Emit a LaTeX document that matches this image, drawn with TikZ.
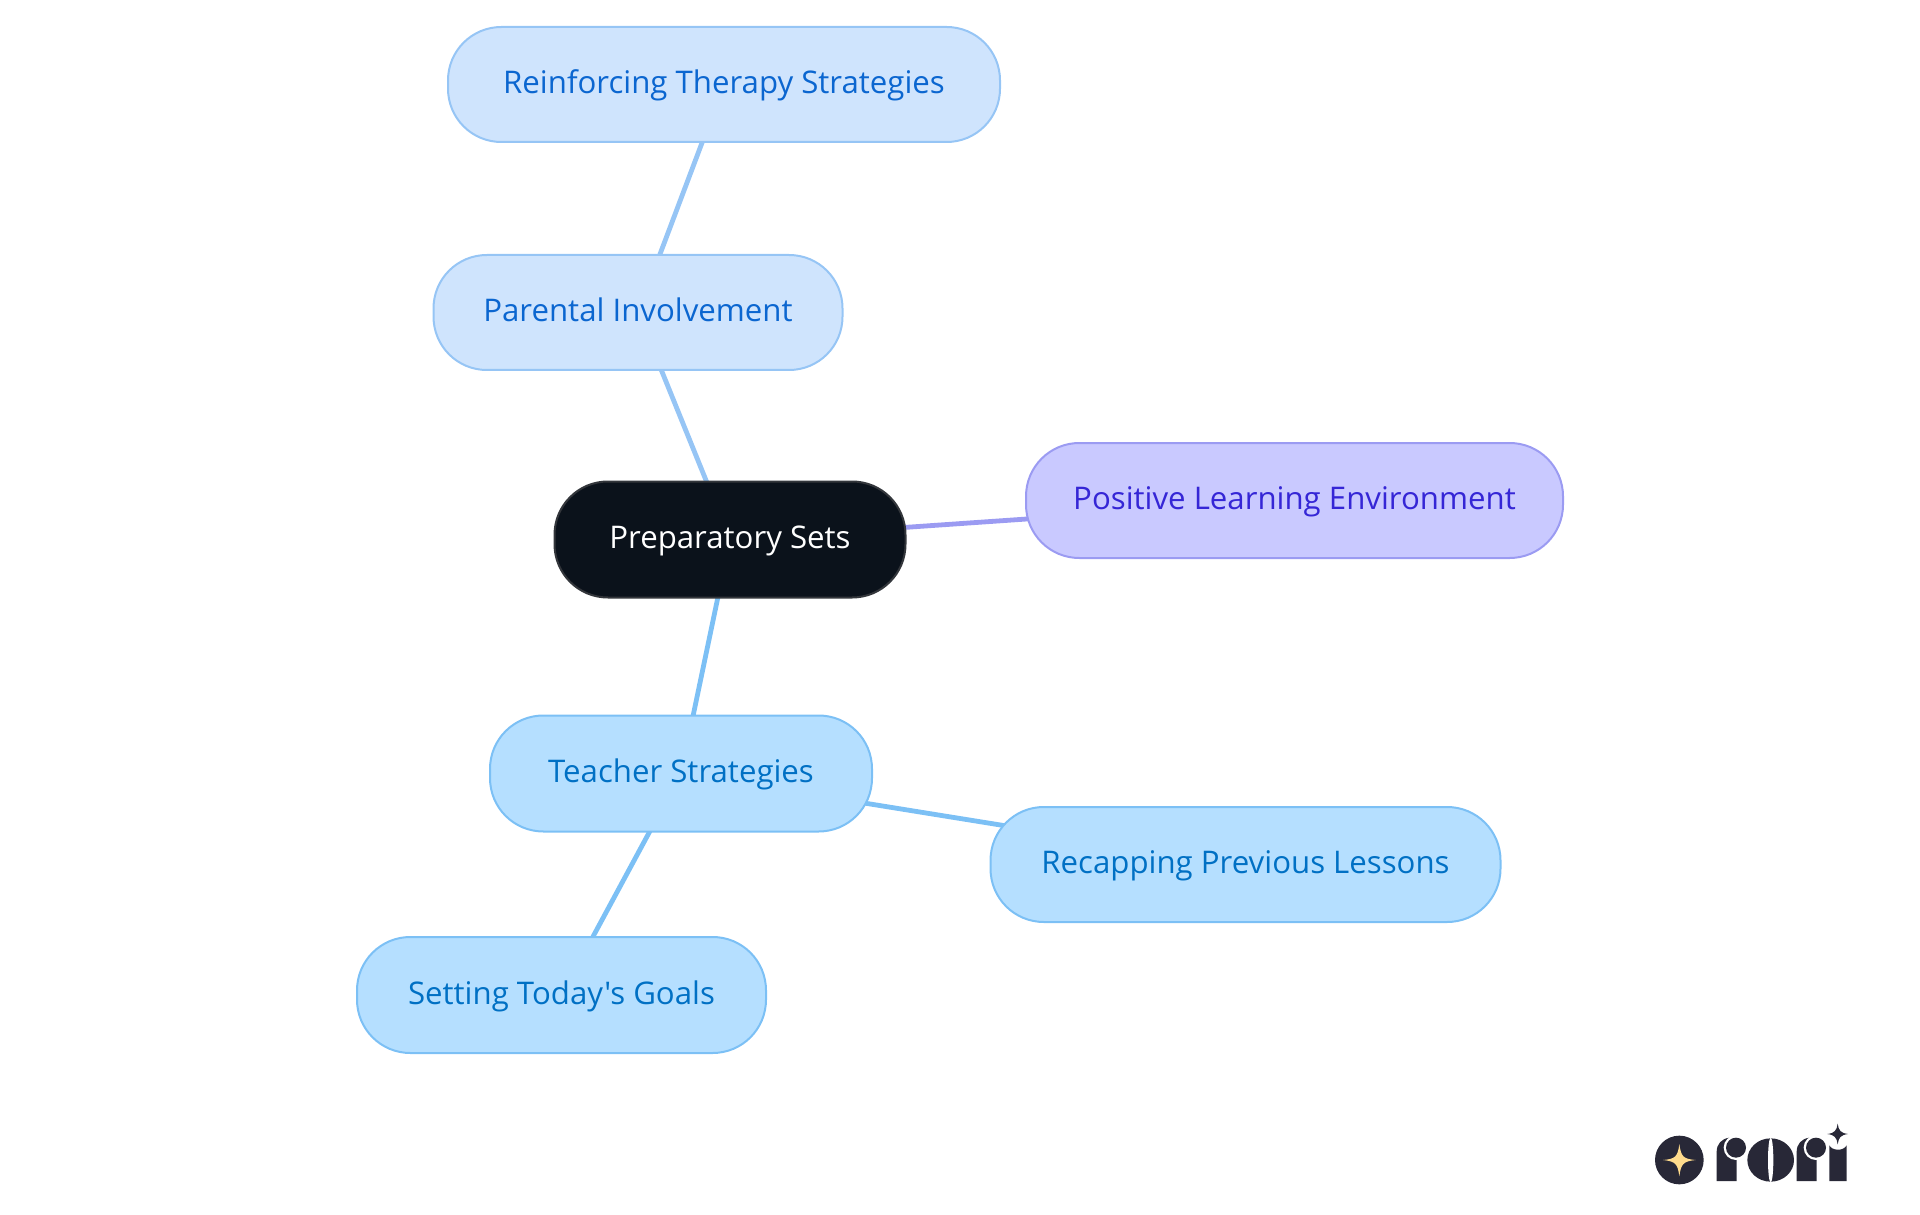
\documentclass[tikz,border=0pt]{standalone}
\usepackage{fontspec}
\setmainfont{Open Sans}[Ligatures=TeXOff]
\usetikzlibrary{backgrounds}
\definecolor{blueAf}{HTML}{CFE4FD}\definecolor{blueAd}{HTML}{96C5F5}\definecolor{blueAt}{HTML}{0B66D0}
\definecolor{blueBf}{HTML}{B5DFFF}\definecolor{blueBd}{HTML}{7CC0F5}\definecolor{blueBt}{HTML}{0070C4}
\definecolor{violetf}{HTML}{C9C9FF}\definecolor{violetd}{HTML}{9B9BF2}\definecolor{violett}{HTML}{3526D6}
\definecolor{rootf}{HTML}{0B121B}\definecolor{rootd}{HTML}{33363B}
\definecolor{logod}{HTML}{282837}\definecolor{logoy}{HTML}{FFDB8C}
\tikzset{
  x=0.75bp,y=-0.75bp,
  pill/.style={rectangle,rounded corners=40bp,inner sep=0pt,line width=1.5bp,align=center,
    text height=21.3bp,text depth=7.5bp,font=\fontsize{23.4bp}{28bp}\selectfont},
  box/.style 2 args={minimum width=#1*0.75bp,minimum height=#2*0.75bp},
  blueA/.style={pill,fill=blueAf,draw=blueAd,text=blueAt},
  blueB/.style={pill,fill=blueBf,draw=blueBd,text=blueBt},
  violet/.style={pill,fill=violetf,draw=violetd,text=violett},
  rootn/.style={pill,fill=rootf,draw=rootd,text=white},
  edgeA/.style={line width=3.6bp,draw=blueAd},
  edgeB/.style={line width=3.6bp,draw=blueBd},
  edgeV/.style={line width=3.6bp,draw=violetd},
  logofill/.style={fill=logod,draw=none},
}
\begin{document}
\begin{tikzpicture}
\useasboundingbox (0,0) rectangle (1920,1215);
\node[rootn,box={351}{116}] (root) at (730,539.5) {Preparatory Sets};
\node[blueA,box={409}{115}] (parent) at (638,312.5) {Parental Involvement};
\node[blueA,box={552}{115}] (reinf) at (724,84.5) {Reinforcing Therapy Strategies};
\node[violet,box={537}{115}] (pos) at (1294.5,500.5) {Positive Learning Environment};
\node[blueB,box={382}{116}] (teach) at (681,773.5) {Teacher Strategies};
\node[blueB,box={510}{115}] (recap) at (1245.5,864.5) {Recapping Previous Lessons};
\node[blueB,box={409}{116}] (goals) at (561.5,995) {Setting Today's Goals};
\begin{scope}[on background layer]
\draw[edgeA] (root.center) -- (parent.center);
\draw[edgeA] (parent.center) -- (reinf.center);
\draw[edgeV] (root.center) -- (pos.center);
\draw[edgeB] (root.center) -- (teach.center);
\draw[edgeB] (teach.center) -- (recap.center);
\draw[edgeB] (teach.center) -- (goals.center);
\end{scope}
% logo
\begin{scope}[shift={(1630,1100)},x=0.25bp,y=-0.25bp]
\fill[logofill] (148,180) circle[radius=73];
\fill[logoy] (148,132) .. controls (153,170) and (160,177) .. (197,180) .. controls (160,184) and (153,191) .. (148,229) .. controls (143,191) and (136,184) .. (99,180) .. controls (136,177) and (143,170) .. (148,132) -- cycle;
\foreach \dx in {0,240}{
  \begin{scope}[shift={(\dx,0)}]
  \fill[logofill] (260,243) -- (260,155) .. controls (260,132) and (275,116) .. (298,113) -- (320,180) -- (320,243) -- cycle;
  \fill[white] (318,143) circle[radius=37];
  \fill[logofill] (318,143) circle[radius=30];
  \end{scope}
}
\fill[logofill] (422,180) ellipse[x radius=70,y radius=65];
\fill[white] (422,180) ellipse[x radius=8,y radius=67];
\fill[logofill] (598,243) -- (598,136) .. controls (605,152) and (640,155) .. (650,136) -- (650,243) -- cycle;
\fill[logofill] (623,71) .. controls (626,92) and (632,99) .. (654,102) .. controls (632,105) and (626,112) .. (623,133) .. controls (620,112) and (614,105) .. (592,102) .. controls (614,99) and (620,92) .. (623,71) -- cycle;
\end{scope}
\end{tikzpicture}
\end{document}
